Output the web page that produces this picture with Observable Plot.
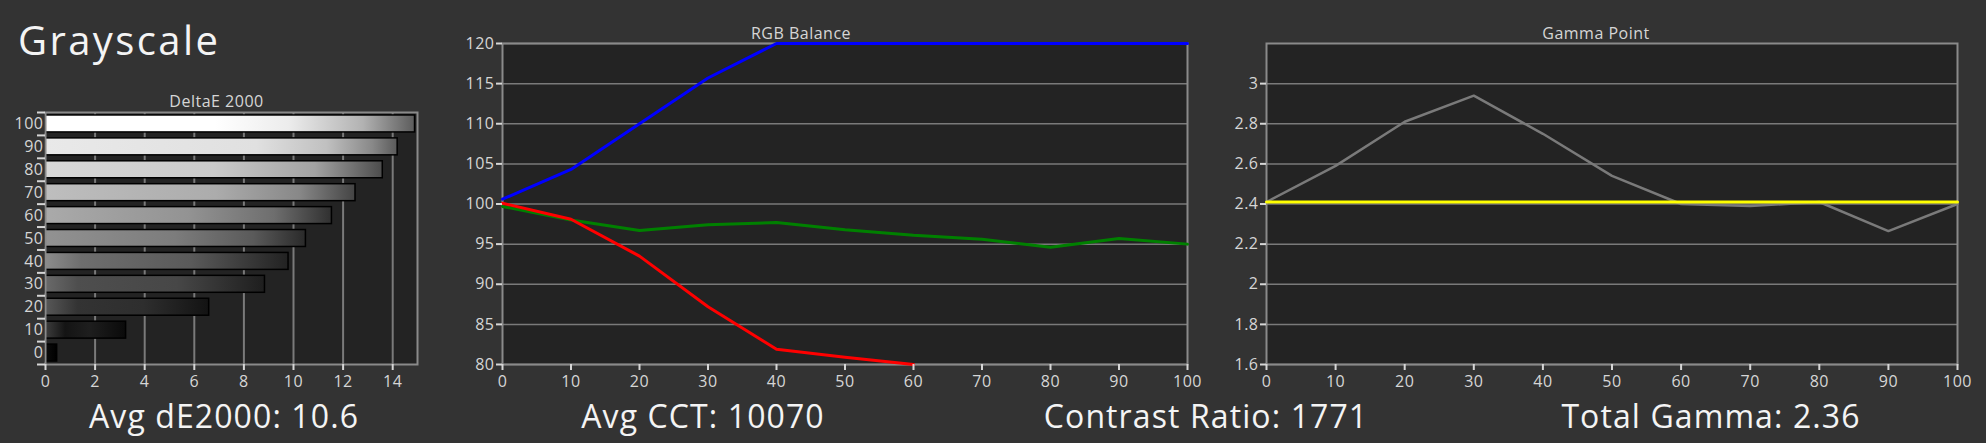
<!DOCTYPE html>
<html><head><meta charset="utf-8">
<script src="https://cdn.jsdelivr.net/npm/d3@7"></script>
<script src="https://cdn.jsdelivr.net/npm/@observablehq/plot@0.6"></script>
<style>
html,body{margin:0;padding:0;background:#333;}
#root{position:relative;width:1986px;height:443px;background:#333;overflow:hidden;font-family:"Open Sans",sans-serif;}
.panel{position:absolute;top:0;}
.big{position:absolute;color:#f4f4f4;white-space:nowrap;line-height:1;}
</style></head><body><div id="root"></div>
<script>
// ---------- data ----------
const levels = [100, 90, 80, 70, 60, 50, 40, 30, 20, 10, 0];
const deltaE = [14.9, 14.2, 13.6, 12.5, 11.55, 10.5, 9.8, 8.85, 6.6, 3.25, 0.47];
const deltaTicks = [0, 2, 4, 6, 8, 10, 12, 14];

const stimulus = [0, 10, 20, 30, 40, 50, 60, 70, 80, 90, 100];
const red   = [100.1, 98.1, 93.5, 87.2, 81.9, 80.9, 80.0, null, null, null, null];
const green = [99.7, 98.0, 96.7, 97.4, 97.7, 96.8, 96.1, 95.6, 94.6, 95.7, 95.0];
const blue  = [100.6, 104.3, 110.0, 115.7, 120, 120, 120, 120, 120, 120, 120];
const rgbYTicks = [80, 85, 90, 95, 100, 105, 110, 115, 120];
const xTicks100 = [0, 10, 20, 30, 40, 50, 60, 70, 80, 90, 100];

const gamma = [2.41, 2.59, 2.81, 2.94, 2.75, 2.54, 2.40, 2.39, 2.41, 2.265, 2.40];
const gammaTarget = [2.41, 2.41];
const gammaTargetX = [0, 100];
const gammaYTicks = [1.6, 1.8, 2, 2.2, 2.4, 2.6, 2.8, 3];

const titles = ["DeltaE 2000", "RGB Balance", "Gamma Point"];
const stats = ["Avg dE2000: 10.6", "Avg CCT: 10070", "Contrast Ratio: 1771", "Total Gamma: 2.36"];

// ---------- styles ----------
const barShades = {
  100: [[0,"#ffffff"],[0.46,"#ffffff"],[0.66,"#ececec"],[0.86,"#b2b2b2"],[1,"#5c5c5c"]],
  90:  [[0,"#e9e9e9"],[0.6,"#e0e0e0"],[0.8,"#c0c0c0"],[0.93,"#888"],[1,"#5a5a5a"]],
  80:  [[0,"#d8d8d8"],[0.5,"#cacaca"],[0.8,"#a2a2a2"],[1,"#4c4c4c"]],
  70:  [[0,"#bebebe"],[0.55,"#acacac"],[0.82,"#888"],[1,"#444"]],
  60:  [[0,"#aaaaaa"],[0.5,"#939393"],[0.8,"#6e6e6e"],[1,"#303030"]],
  50:  [[0,"#929292"],[0.5,"#7c7c7c"],[0.8,"#5a5a5a"],[1,"#2a2a2a"]],
  40:  [[0,"#8c8c8c"],[0.15,"#6e6e6e"],[0.6,"#5a5a5a"],[1,"#222"]],
  30:  [[0,"#6a6a6a"],[0.15,"#4e4e4e"],[0.6,"#474747"],[1,"#1e1e1e"]],
  20:  [[0,"#585858"],[0.2,"#333"],[0.6,"#2e2e2e"],[1,"#131313"]],
  10:  [[0,"#3e3e3e"],[0.25,"#141414"],[0.55,"#1e1e1e"],[1,"#0a0a0a"]],
  0:   [[0,"#0c0c0c"],[1,"#000"]]
};
const plotBg = "#232323", frameColor = "#8a8a8a", gridColor = "#7a7a7a";
const baseStyle = {background: "transparent", color: "#d6d6d6", fontFamily: "'Open Sans', sans-serif", fontSize: "16px", letterSpacing: "0.5px", overflow: "visible"};
const plainNum = d => `${d}`;

const root = document.getElementById("root");
function place(el, left) { el.classList.add("panel"); el.style.left = left + "px"; root.appendChild(el); }

// ---------- panel 1: DeltaE bars ----------
const deRows = levels.map((l, i) => ({level: l, v: deltaE[i]}));
const p1 = Plot.plot({
  width: 440, height: 443, marginLeft: 45, marginRight: 23, marginTop: 112, marginBottom: 79,
  style: baseStyle,
  x: {domain: [0, 15]},
  y: {domain: [-5, 105]},
  marks: [
    Plot.frame({fill: plotBg, stroke: "none"}),
    Plot.ruleX(deltaTicks.filter(t => t > 0), {stroke: gridColor, strokeWidth: 2}),
    Plot.rect(deRows, {x1: 0, x2: "v", y1: d => d.level - 3.7, y2: d => d.level + 3.7, fill: "#888", stroke: "#000", strokeWidth: 1.5}),
    Plot.frame({stroke: frameColor, strokeWidth: 2}),
    Plot.axisX({ticks: deltaTicks, tickSize: 6, tickPadding: 5, strokeWidth: 2, label: null}),
    Plot.axisY({ticks: levels, tickSize: 0, tickPadding: 2, label: null}),
    Plot.axisY({ticks: levels.map(l => l - 5).concat([levels[0] + 5]), tickSize: 8, tickFormat: () => "", strokeWidth: 2, label: null}),
    Plot.text([titles[0]], {frameAnchor: "top", lineAnchor: "bottom", dy: -6, dx: -15})
  ]
});
const defs = d3.select(p1).insert("defs", ":first-child");
levels.forEach(l => {
  const g = defs.append("linearGradient").attr("id", "shade" + l).attr("x1", 0).attr("x2", 1).attr("y1", 0).attr("y2", 0);
  barShades[l].forEach(([o, c]) => g.append("stop").attr("offset", o).attr("stop-color", c));
});
d3.select(p1).selectAll('g[aria-label="rect"] rect').attr("fill", (d, i) => `url(#shade${levels[i]})`);
place(p1, 0);

// ---------- panel 2: RGB balance ----------
const rgbRows = stimulus.map((s, i) => ({s, r: red[i], g: green[i], b: blue[i]}));
const p2 = Plot.plot({
  width: 770, height: 443, marginLeft: 62, marginRight: 23, marginTop: 43, marginBottom: 79,
  style: baseStyle,
  x: {domain: [0, 100]},
  y: {domain: [80, 120]},
  marks: [
    Plot.frame({fill: plotBg, stroke: "none"}),
    Plot.ruleY(rgbYTicks, {stroke: gridColor, strokeWidth: 1.5}),
    Plot.frame({stroke: frameColor, strokeWidth: 2}),
    Plot.lineY(rgbRows, {x: "s", y: "g", stroke: "#008000", strokeWidth: 3}),
    Plot.lineY(rgbRows, {x: "s", y: "r", stroke: "#ff0000", strokeWidth: 3}),
    Plot.lineY(rgbRows, {x: "s", y: "b", stroke: "#0000ff", strokeWidth: 3}),
    Plot.axisX({ticks: xTicks100, tickSize: 6, tickPadding: 5, strokeWidth: 2, label: null}),
    Plot.axisY({ticks: rgbYTicks, tickSize: 6, tickPadding: 2, strokeWidth: 2, label: null}),
    Plot.text([titles[1]], {frameAnchor: "top", lineAnchor: "bottom", dy: -5, dx: -44})
  ]
});
place(p2, 440);

// ---------- panel 3: Gamma ----------
const gRows = stimulus.map((s, i) => ({s, g: gamma[i]}));
const tRows = gammaTargetX.map((s, i) => ({s, t: gammaTarget[i]}));
const p3 = Plot.plot({
  width: 776, height: 443, marginLeft: 56, marginRight: 29, marginTop: 43, marginBottom: 79,
  style: baseStyle,
  x: {domain: [0, 100]},
  y: {domain: [1.6, 3.2]},
  marks: [
    Plot.frame({fill: plotBg, stroke: "none"}),
    Plot.ruleY(gammaYTicks, {stroke: gridColor, strokeWidth: 1.5}),
    Plot.frame({stroke: frameColor, strokeWidth: 2}),
    Plot.lineY(gRows, {x: "s", y: "g", stroke: "#7a7a7a", strokeWidth: 2.5}),
    Plot.lineY(tRows, {x: "s", y: "t", stroke: "#ffff00", strokeWidth: 3}),
    Plot.axisX({ticks: xTicks100, tickSize: 6, tickPadding: 5, strokeWidth: 2, label: null}),
    Plot.axisY({ticks: gammaYTicks, tickSize: 6, tickPadding: 2, strokeWidth: 2, tickFormat: plainNum, label: null}),
    Plot.text([titles[2]], {frameAnchor: "top", lineAnchor: "bottom", dy: -5, dx: -16})
  ]
});
place(p3, 1210);

// ---------- big texts ----------
function big(text, left, top, size, spacing, center) {
  const d = document.createElement("div");
  d.className = "big";
  d.textContent = text;
  d.style.left = left + "px";
  d.style.top = top + "px";
  d.style.fontSize = size + "px";
  d.style.letterSpacing = spacing + "px";
  if (center) d.style.transform = "translateX(-50%)";
  root.appendChild(d);
}
big("Grayscale", 18, 19.5, 40, 2.4, false);
const statCenters = [224, 703, 1206, 1711];
stats.forEach((s, i) => big(s, statCenters[i], 399.5, 32, 1.1, true));
</script></body></html>
